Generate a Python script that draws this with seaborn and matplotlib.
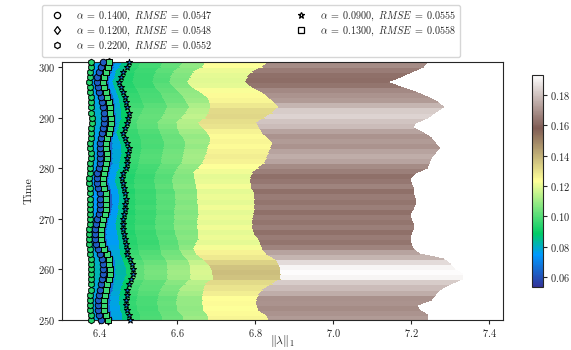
import numpy as np
import matplotlib
matplotlib.use("Agg")
from matplotlib import pyplot as plt
from matplotlib.colors import Normalize
from matplotlib.lines import Line2D
import seaborn as sns

# time steps (rows of the mesh)
time = list(range(250, 302))

# ||lambda||_1 for each alpha sweep, one value per time step
hex_x = [6.379, 6.378, 6.377, 6.376, 6.376, 6.377, 6.378, 6.379, 6.380, 6.380,
         6.380, 6.379, 6.378, 6.377, 6.375, 6.374, 6.373, 6.373, 6.374, 6.375,
         6.376, 6.376, 6.377, 6.377, 6.377, 6.376, 6.375, 6.374, 6.374, 6.375,
         6.376, 6.377, 6.378, 6.378, 6.377, 6.377, 6.378, 6.379, 6.380, 6.381,
         6.381, 6.380, 6.380, 6.379, 6.378, 6.376, 6.375, 6.374, 6.375, 6.377,
         6.379, 6.380]
circ_x = [6.405, 6.400, 6.397, 6.396, 6.397, 6.398, 6.401, 6.404, 6.408, 6.410,
          6.410, 6.409, 6.407, 6.403, 6.397, 6.392, 6.390, 6.389, 6.390, 6.391,
          6.394, 6.398, 6.401, 6.402, 6.402, 6.401, 6.397, 6.394, 6.393, 6.395,
          6.399, 6.402, 6.403, 6.403, 6.402, 6.402, 6.404, 6.407, 6.410, 6.412,
          6.412, 6.411, 6.410, 6.408, 6.404, 6.400, 6.396, 6.393, 6.395, 6.400,
          6.405, 6.409]
sq_x = [6.422, 6.416, 6.413, 6.412, 6.413, 6.414, 6.418, 6.421, 6.425, 6.427,
        6.427, 6.426, 6.424, 6.420, 6.413, 6.407, 6.405, 6.404, 6.405, 6.406,
        6.410, 6.414, 6.417, 6.418, 6.418, 6.417, 6.413, 6.410, 6.409, 6.411,
        6.415, 6.418, 6.419, 6.419, 6.418, 6.418, 6.420, 6.424, 6.427, 6.429,
        6.429, 6.428, 6.427, 6.425, 6.421, 6.416, 6.412, 6.409, 6.411, 6.416,
        6.422, 6.426]
sweep3_x = [6.438, 6.432, 6.429, 6.428, 6.429, 6.430, 6.434, 6.437, 6.441, 6.443,
            6.443, 6.442, 6.440, 6.436, 6.429, 6.423, 6.421, 6.420, 6.421, 6.422,
            6.426, 6.430, 6.433, 6.434, 6.434, 6.433, 6.429, 6.426, 6.425, 6.427,
            6.431, 6.434, 6.435, 6.435, 6.434, 6.434, 6.436, 6.440, 6.443, 6.445,
            6.445, 6.444, 6.443, 6.441, 6.437, 6.432, 6.428, 6.425, 6.427, 6.432,
            6.438, 6.442]
sweep4_x = [6.462, 6.460, 6.456, 6.452, 6.452, 6.454, 6.456, 6.460, 6.466, 6.470,
            6.470, 6.467, 6.462, 6.456, 6.454, 6.453, 6.451, 6.448, 6.445, 6.444,
            6.446, 6.448, 6.450, 6.451, 6.452, 6.450, 6.447, 6.444, 6.442, 6.446,
            6.452, 6.454, 6.456, 6.458, 6.459, 6.456, 6.450, 6.446, 6.450, 6.454,
            6.458, 6.459, 6.456, 6.452, 6.450, 6.446, 6.439, 6.435, 6.440, 6.444,
            6.454, 6.461]
star_x = [6.478, 6.476, 6.472, 6.468, 6.468, 6.470, 6.472, 6.476, 6.482, 6.486,
          6.486, 6.483, 6.478, 6.472, 6.470, 6.469, 6.467, 6.464, 6.461, 6.460,
          6.462, 6.464, 6.466, 6.467, 6.468, 6.466, 6.463, 6.460, 6.458, 6.462,
          6.468, 6.470, 6.472, 6.474, 6.475, 6.472, 6.466, 6.462, 6.466, 6.470,
          6.474, 6.475, 6.472, 6.468, 6.466, 6.462, 6.455, 6.451, 6.456, 6.460,
          6.470, 6.477]
sweep6_x = [6.507, 6.506, 6.498, 6.496, 6.496, 6.498, 6.502, 6.510, 6.517, 6.517,
            6.517, 6.516, 6.513, 6.505, 6.502, 6.500, 6.498, 6.495, 6.493, 6.492,
            6.493, 6.494, 6.494, 6.495, 6.495, 6.495, 6.492, 6.491, 6.491, 6.493,
            6.498, 6.503, 6.505, 6.507, 6.509, 6.510, 6.507, 6.502, 6.499, 6.496,
            6.503, 6.510, 6.516, 6.512, 6.507, 6.502, 6.493, 6.486, 6.488, 6.492,
            6.502, 6.507]
sweep7_x = [6.564, 6.562, 6.553, 6.550, 6.550, 6.553, 6.557, 6.568, 6.577, 6.577,
            6.577, 6.575, 6.572, 6.562, 6.557, 6.555, 6.553, 6.548, 6.546, 6.545,
            6.546, 6.547, 6.547, 6.548, 6.548, 6.548, 6.545, 6.544, 6.544, 6.546,
            6.553, 6.560, 6.562, 6.564, 6.566, 6.568, 6.564, 6.557, 6.554, 6.550,
            6.560, 6.568, 6.575, 6.571, 6.564, 6.557, 6.546, 6.537, 6.539, 6.545,
            6.557, 6.564]
sweep8_x = [6.617, 6.615, 6.602, 6.599, 6.599, 6.602, 6.608, 6.623, 6.635, 6.635,
            6.635, 6.632, 6.627, 6.614, 6.608, 6.605, 6.602, 6.596, 6.593, 6.592,
            6.593, 6.594, 6.595, 6.596, 6.596, 6.596, 6.591, 6.590, 6.590, 6.593,
            6.602, 6.611, 6.614, 6.616, 6.620, 6.622, 6.617, 6.608, 6.603, 6.599,
            6.611, 6.623, 6.632, 6.626, 6.617, 6.608, 6.593, 6.581, 6.584, 6.592,
            6.608, 6.617]
yellow_x = [6.680, 6.678, 6.668, 6.665, 6.665, 6.665, 6.668, 6.673, 6.694, 6.692,
            6.690, 6.680, 6.668, 6.650, 6.643, 6.648, 6.655, 6.655, 6.653, 6.652,
            6.653, 6.655, 6.655, 6.654, 6.652, 6.652, 6.650, 6.648, 6.645, 6.643,
            6.655, 6.665, 6.670, 6.675, 6.678, 6.683, 6.686, 6.678, 6.668, 6.655,
            6.673, 6.682, 6.686, 6.683, 6.678, 6.660, 6.640, 6.627, 6.635, 6.643,
            6.665, 6.673]
brown_x = [6.835, 6.831, 6.810, 6.805, 6.805, 6.810, 6.820, 6.845, 6.865, 6.865,
           6.865, 6.860, 6.852, 6.830, 6.820, 6.815, 6.810, 6.800, 6.795, 6.793,
           6.795, 6.797, 6.798, 6.800, 6.800, 6.800, 6.792, 6.790, 6.790, 6.795,
           6.810, 6.825, 6.830, 6.834, 6.840, 6.844, 6.835, 6.820, 6.812, 6.805,
           6.825, 6.845, 6.860, 6.850, 6.835, 6.820, 6.795, 6.775, 6.780, 6.793,
           6.820, 6.835]
right_x = [7.240, 7.240, 7.220, 7.215, 7.250, 7.260, 7.270, 7.300, 7.330, 7.330,
           7.310, 7.300, 7.280, 7.220, 7.205, 7.200, 7.197, 7.200, 7.205, 7.205,
           7.200, 7.197, 7.205, 7.210, 7.210, 7.205, 7.205, 7.200, 7.197, 7.210,
           7.240, 7.245, 7.250, 7.260, 7.270, 7.260, 7.250, 7.230, 7.205, 7.210,
           7.240, 7.257, 7.280, 7.265, 7.240, 7.210, 7.170, 7.137, 7.170, 7.200,
           7.230, 7.240]

# RMSE of each band (between two neighbouring sweeps) and how strongly it follows the row tone
band_rmse = [0.075, 0.057, 0.063, 0.076, 0.085, 0.094, 0.097, 0.101, 0.107, 0.121, 0.165]
band_gain = [0.2, 0.2, 0.2, 0.2, 0.2, 0.25, 0.25, 0.3, 0.35, 0.5, 0.85]
row_tone = [0.008, 0.006, 0.004, 0.006, 0.005, 0.012, 0.016, 0.020, 0.030, 0.032,
            0.030, 0.024, 0.014, 0.010, 0.002, -0.002, 0.000, -0.003, 0.001, -0.002,
            0.000, -0.003, 0.001, -0.002, 0.000, -0.003, 0.002, -0.001, -0.003, 0.001,
            0.004, 0.010, 0.012, 0.010, 0.006, 0.008, 0.006, 0.010, 0.016, 0.018,
            0.022, 0.020, 0.014, 0.008, 0.006, 0.003, -0.002, -0.004, -0.003, 0.000,
            0.004]

legend_labels = [
    r"$\alpha\;=\;0.1400,\ RMSE\;=\;0.0547$",
    r"$\alpha\;=\;0.1200,\ RMSE\;=\;0.0548$",
    r"$\alpha\;=\;0.2200,\ RMSE\;=\;0.0552$",
    r"$\alpha\;=\;0.0900,\ RMSE\;=\;0.0555$",
    r"$\alpha\;=\;0.1300,\ RMSE\;=\;0.0558$",
]
legend_markers = ["o", "d", "h", "*", "s"]

sns.set_style("ticks")
plt.rcParams["font.family"] = "serif"
plt.rcParams["font.serif"] = ["cmr10"]
plt.rcParams["mathtext.fontset"] = "cm"
plt.rcParams["axes.formatter.use_mathtext"] = True

X = np.column_stack([hex_x, circ_x, sq_x, sweep3_x, sweep4_x, star_x,
                     sweep6_x, sweep7_x, sweep8_x, yellow_x, brown_x, right_x])
Y = np.repeat(np.array(time, dtype=float)[:, None], X.shape[1], axis=1)
C = np.array(band_rmse)[None, :] + np.array(row_tone)[:, None] * np.array(band_gain)[None, :]

cmap = plt.get_cmap("terrain")
norm = Normalize(vmin=0.0534, vmax=0.1932)

fig = plt.figure(figsize=(5.71, 3.5), dpi=100)
ax = fig.add_axes([0.109, 0.086, 0.772, 0.737])
mesh = ax.pcolormesh(X, Y, C, cmap=cmap, norm=norm, shading="flat",
                     edgecolors="face", linewidth=0.2)

mk = dict(edgecolor="black", linewidth=0.7, s=22, ax=ax, legend=False, zorder=3, clip_on=False)
sns.scatterplot(x=hex_x, y=time, marker="h", color=cmap(norm(0.093)), **mk)
sns.scatterplot(x=sq_x, y=time, marker="d", color=cmap(norm(0.095)), **mk)
sns.scatterplot(x=circ_x, y=time, marker="o", color=cmap(norm(0.062)), **mk)
sns.scatterplot(x=sq_x, y=time, marker="s", color=cmap(norm(0.096)), **mk)
sns.scatterplot(x=star_x, y=time, marker="*", color=cmap(norm(0.066)), **mk)

ax.set_xlim(6.305, 7.435)
ax.set_ylim(250, 301)
ax.set_xticks([6.4, 6.6, 6.8, 7.0, 7.2, 7.4])
ax.set_yticks([250, 260, 270, 280, 290, 300])
ax.tick_params(labelsize=7.5, length=3, width=0.8, pad=2)
ax.set_xlabel(r"$\|\lambda\|_1$", fontsize=8.5, labelpad=-4)
ax.set_ylabel("Time", fontsize=8.5, labelpad=3)
for sp in ax.spines.values():
    sp.set_linewidth(0.8)

cax = fig.add_axes([0.931, 0.18, 0.0205, 0.606])
cb = fig.colorbar(mesh, cax=cax)
cb.set_ticks([0.06, 0.08, 0.10, 0.12, 0.14, 0.16, 0.18])
cb.ax.tick_params(labelsize=7.5, length=3, width=0.8, pad=2)
cb.outline.set_linewidth(0.8)

handles = [Line2D([], [], marker=m, linestyle="none", markerfacecolor="white",
                  markeredgecolor="black", markersize=4.5, markeredgewidth=0.9)
           for m in legend_markers]
fig.legend(handles, legend_labels, ncol=2, loc="upper left",
           bbox_to_anchor=(0.074, 0.866, 0.732, 0.12), mode="expand",
           borderaxespad=0, fontsize=7.3, frameon=True, edgecolor="#cccccc",
           handletextpad=0.9, labelspacing=0.15, borderpad=0.45)

fig.savefig("out.png", dpi=100)
